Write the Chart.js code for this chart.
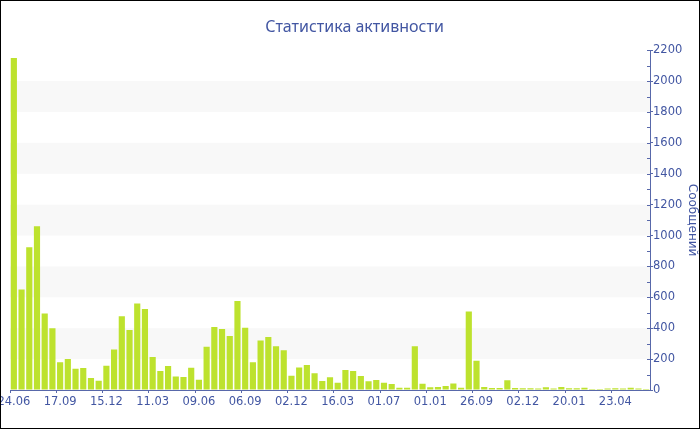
<!DOCTYPE html>
<html>
<head>
<meta charset="utf-8">
<script src="https://cdn.jsdelivr.net/npm/chart.js@4/dist/chart.umd.min.js"></script>
<style>
    html, body { margin: 0; padding: 0; background: #fff; }
    #wrap { width: 698px; height: 427px; border: 1px solid #000; position: relative; }
</style>
</head>
<body>
<div id="wrap"><canvas id="graficoAtividade" width="698" height="427"></canvas></div>
<script>
// labels under every 6th bar
const tickLabels = ['24.06', '17.09', '15.12', '11.03', '09.06', '06.09', '02.12',
    '16.03', '01.07', '01.01', '26.09', '02.12', '20.01', '23.04'];
const labelEvery = 6;

const mensagens = [
    2150, 650, 925, 1060, 495, 400, 180, 200, 138, 142,
    78, 60, 157, 263, 478, 388, 560, 524, 213, 123,
    155, 88, 84, 144, 67, 280, 408, 395, 349, 576,
    403, 179, 321, 343, 283, 257, 93, 145, 162, 108,
    58, 82, 47, 129, 123, 91, 56, 65, 47, 39,
    15, 15, 283, 40, 17, 19, 26, 42, 15, 509,
    190, 19, 13, 13, 63, 13, 11, 11, 9, 17,
    9, 20, 11, 11, 15, 6, 6, 9, 11, 9,
    15, 9, 6
];

const yTicks = [0, 200, 400, 600, 800, 1000, 1200, 1400, 1600, 1800, 2000, 2200];

const categorias = mensagens.map((_, i) => i % labelEvery === 0 ? tickLabels[i / labelEvery] : '');

const corTexto = '#4256a2';
const corEixo = '#5868aa';

// alternating bands and small inner ticks on the value axis
const faixas = {
    id: 'faixas',
    beforeDatasetsDraw(chart) {
        const { ctx, chartArea, scales } = chart;
        const y = scales.y;
        ctx.save();
        ctx.fillStyle = '#f8f8f8';
        for (let i = 1; i < yTicks.length - 1; i += 2) {
            const top = y.getPixelForValue(yTicks[i + 1]);
            const bottom = y.getPixelForValue(yTicks[i]);
            ctx.fillRect(chartArea.left, top, chartArea.right - chartArea.left, bottom - top);
        }
        ctx.restore();
    },
    afterDraw(chart) {
        const { ctx, chartArea, scales } = chart;
        const y = scales.y;
        ctx.save();
        ctx.strokeStyle = corEixo;
        ctx.lineWidth = 1;
        ctx.beginPath();
        for (let v = 0; v <= yTicks[yTicks.length - 1]; v += 100) {
            const py = Math.round(y.getPixelForValue(v)) + 0.5;
            ctx.moveTo(chartArea.right - 3, py);
            ctx.lineTo(chartArea.right, py);
        }
        ctx.stroke();
        ctx.restore();
    }
};

new Chart(document.getElementById('graficoAtividade'), {
    type: 'bar',
    data: {
        labels: categorias,
        datasets: [{
            label: 'Сообщений',
            data: mensagens,
            backgroundColor: '#bde22e',
            borderWidth: 0,
            categoryPercentage: 1,
            barPercentage: 0.8
        }]
    },
    options: {
        responsive: false,
        animation: false,
        layout: { padding: { left: 9, right: 0, top: 0, bottom: 0 } },
        plugins: {
            legend: { display: false },
            tooltip: { enabled: false },
            title: {
                display: true,
                text: 'Статистика активности',
                color: corTexto,
                font: { family: 'Noto Sans', size: 16, weight: 'normal' },
                padding: { top: 17, bottom: 13 }
            }
        },
        scales: {
            x: {
                afterFit: s => {
                    s.height = 38;
                    s.paddingLeft = 0;
                    s.paddingRight = 0;
                },
                grid: {
                    drawOnChartArea: false,
                    tickLength: 3,
                    tickColor: c => (c.tick && c.tick.label) ? corEixo : 'rgba(0,0,0,0)'
                },
                border: { color: corEixo, width: 1 },
                ticks: {
                    autoSkip: false,
                    maxRotation: 0,
                    padding: 2,
                    color: corTexto,
                    font: { family: 'DejaVu Sans', size: 11.5 }
                }
            },
            y: {
                position: 'right',
                min: 0,
                max: 2200,
                afterFit: s => { s.width = 49; },
                afterBuildTicks: s => { s.ticks = yTicks.map(v => ({ value: v })); },
                grid: {
                    drawOnChartArea: false,
                    tickLength: 3,
                    color: corEixo
                },
                border: { color: corEixo, width: 1 },
                ticks: {
                    padding: 0,
                    color: corTexto,
                    font: { family: 'DejaVu Sans', size: 11.5 },
                    callback: v => String(v)
                },
                title: {
                    display: true,
                    text: 'Сообщений',
                    color: corTexto,
                    font: { family: 'DejaVu Sans', size: 12 },
                    padding: { top: 0, bottom: 2 }
                }
            }
        }
    },
    plugins: [faixas]
});
</script>
</body>
</html>
